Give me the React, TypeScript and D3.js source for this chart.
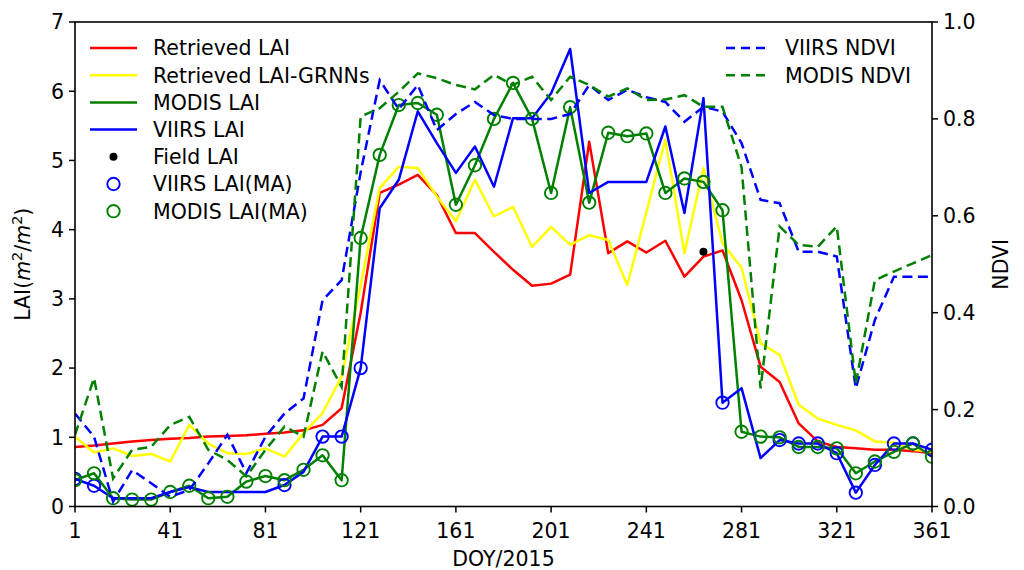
import React from "react";
import * as d3 from "d3";

const doy = [1,9,17,25,33,41,49,57,65,73,81,89,97,105,113,121,129,137,145,153,161,169,177,185,193,201,209,217,225,233,241,249,257,265,273,281,289,297,305,313,321,329,337,345,353,361];

const retrievedLai = [0.86,0.88,0.91,0.94,0.96,0.98,0.99,1.01,1.02,1.03,1.05,1.07,1.10,1.18,1.42,2.8,4.53,4.65,4.79,4.5,3.95,3.95,3.68,3.42,3.19,3.22,3.35,5.27,3.66,3.83,3.67,3.84,3.32,3.61,3.70,2.98,2.02,1.80,1.2,0.94,0.86,0.84,0.82,0.82,0.8,0.77];

const grnnLai = [1.01,0.78,0.84,0.73,0.76,0.65,1.18,0.91,0.77,0.76,0.84,0.72,1.06,1.35,1.88,3.2,4.6,4.91,4.89,4.48,4.12,4.72,4.19,4.33,3.75,4.04,3.78,3.92,3.85,3.2,4.25,5.3,3.66,4.89,3.8,3.45,2.36,2.19,1.47,1.27,1.18,1.1,0.94,0.92,0.82,0.79];

const modisLai = [0.38,0.48,0.12,0.1,0.1,0.21,0.3,0.12,0.14,0.36,0.44,0.38,0.53,0.74,0.38,3.88,5.08,5.8,5.83,5.66,4.36,4.93,5.6,6.12,5.6,4.53,5.77,4.39,5.4,5.35,5.39,4.53,4.74,4.69,4.28,1.08,1.01,1.0,0.86,0.86,0.84,0.48,0.65,0.79,0.91,0.72];

const viirsLai = [0.40,0.30,0.12,0.12,0.12,0.21,0.28,0.21,0.21,0.21,0.21,0.31,0.5,1.01,1.01,2.0,4.31,4.72,5.71,5.25,4.82,5.2,4.62,5.61,5.61,5.97,6.61,4.53,4.69,4.69,4.69,5.49,4.24,5.9,1.5,1.71,0.7,0.96,0.91,0.91,0.77,0.2,0.6,0.91,0.91,0.82];

const viirsMaDoy = [1,9,89,105,113,121,273,297,305,313,321,329,337,345,353,361];
const viirsMaLai = [0.40,0.30,0.31,1.01,1.01,2.0,1.5,0.96,0.91,0.91,0.77,0.2,0.6,0.91,0.91,0.82];

const fieldDoy = [265];
const fieldLai = [3.68];

const viirsNdvi = [0.192,0.144,0.01,0.075,0.048,0.02,0.034,0.089,0.148,0.069,0.144,0.192,0.223,0.426,0.467,0.69,0.88,0.82,0.87,0.777,0.81,0.835,0.808,0.8,0.8,0.8,0.81,0.87,0.839,0.86,0.845,0.835,0.794,0.825,0.815,0.75,0.633,0.626,0.526,0.526,0.516,0.244,0.385,0.474,0.474,0.474];

const modisNdvi = [0.148,0.265,0.058,0.117,0.123,0.168,0.185,0.117,0.096,0.062,0.117,0.165,0.144,0.32,0.247,0.805,0.822,0.856,0.894,0.884,0.87,0.861,0.891,0.87,0.887,0.839,0.887,0.87,0.846,0.863,0.839,0.84,0.849,0.825,0.825,0.70,0.244,0.578,0.54,0.536,0.578,0.254,0.467,0.485,0.502,0.519];

const xTicks = [1,41,81,121,161,201,241,281,321,361];
const yLeftTicks = [0,1,2,3,4,5,6,7];
const yRightTicks = [0,0.2,0.4,0.6,0.8,1.0];

const RED = "#ff0000";
const YELLOW = "#ffff00";
const GREEN = "#008000";
const BLUE = "#0000ff";
const FONT = "'DejaVu Sans', sans-serif";

export default function App() {
  const left = 75, right = 932, top = 22, bottom = 506.5;
  const x = d3.scaleLinear().domain([1, 361]).range([left, right]);
  const yL = d3.scaleLinear().domain([0, 7]).range([bottom, top]);
  const yR = d3.scaleLinear().domain([0, 1]).range([bottom, top]);

  const lineL = (vals: number[]) =>
    d3.line<number>().x((_, i) => x(doy[i])).y((d) => yL(d))(vals) || "";
  const lineR = (vals: number[]) =>
    d3.line<number>().x((_, i) => x(doy[i])).y((d) => yR(d))(vals) || "";

  const lw = 2.5;
  const dash = "10,5.5";
  const fs = 20.5;

  const legendRows = [
    { label: "Retrieved LAI", type: "line", color: RED },
    { label: "Retrieved LAI-GRNNs", type: "line", color: YELLOW },
    { label: "MODIS LAI", type: "line", color: GREEN },
    { label: "VIIRS LAI", type: "line", color: BLUE },
    { label: "Field LAI", type: "dot", color: "#000" },
    { label: "VIIRS LAI(MA)", type: "circle", color: BLUE },
    { label: "MODIS LAI(MA)", type: "circle", color: GREEN },
  ];
  const rightLegend = [
    { label: "VIIRS NDVI", color: BLUE },
    { label: "MODIS NDVI", color: GREEN },
  ];

  return (
    <svg
      width={1024}
      height={570}
      style={{ position: "absolute", left: 0, top: 0, background: "#fff" }}
      fontFamily={FONT}
    >
      <defs>
        <clipPath id="plotClip">
          <rect x={left} y={top} width={right - left} height={bottom - top} />
        </clipPath>
      </defs>
      <rect x={0} y={0} width={1024} height={570} fill="#fff" />

      <g clipPath="url(#plotClip)">
        <path d={lineL(retrievedLai)} fill="none" stroke={RED} strokeWidth={lw} strokeLinejoin="round" />
        <path d={lineL(grnnLai)} fill="none" stroke={YELLOW} strokeWidth={lw} strokeLinejoin="round" />
        <path d={lineL(modisLai)} fill="none" stroke={GREEN} strokeWidth={lw} strokeLinejoin="round" />
        <path d={lineL(viirsLai)} fill="none" stroke={BLUE} strokeWidth={lw} strokeLinejoin="round" />
        {fieldDoy.map((d, i) => (
          <circle key={"f" + i} cx={x(d)} cy={yL(fieldLai[i])} r={4} fill="#000" />
        ))}
        {viirsMaDoy.map((d, i) => (
          <circle key={"v" + i} cx={x(d)} cy={yL(viirsMaLai[i])} r={6.2} fill="none" stroke={BLUE} strokeWidth={1.9} />
        ))}
        {doy.map((d, i) => (
          <circle key={"m" + i} cx={x(d)} cy={yL(modisLai[i])} r={6.2} fill="none" stroke={GREEN} strokeWidth={1.9} />
        ))}
        <path d={lineR(viirsNdvi)} fill="none" stroke={BLUE} strokeWidth={lw} strokeDasharray={dash} />
        <path d={lineR(modisNdvi)} fill="none" stroke={GREEN} strokeWidth={lw} strokeDasharray={dash} />
      </g>

      {/* frame */}
      <rect x={left} y={top} width={right - left} height={bottom - top} fill="none" stroke="#000" strokeWidth={1.6} />

      {/* bottom axis */}
      {xTicks.map((t) => (
        <g key={"x" + t}>
          <line x1={x(t)} x2={x(t)} y1={bottom} y2={bottom + 6} stroke="#000" strokeWidth={1.5} />
          <text x={x(t)} y={538} textAnchor="middle" fontSize={fs} fill="#000">{t}</text>
        </g>
      ))}
      <text x={(left + right) / 2} y={566} textAnchor="middle" fontSize={fs} fill="#000">DOY/2015</text>

      {/* left axis */}
      {yLeftTicks.map((t) => (
        <g key={"yl" + t}>
          <line x1={left - 6} x2={left} y1={yL(t)} y2={yL(t)} stroke="#000" strokeWidth={1.5} />
          <text x={left - 11} y={yL(t)} dy="0.36em" textAnchor="end" fontSize={fs} fill="#000">{t}</text>
        </g>
      ))}
      <text transform={`translate(30, ${(top + bottom) / 2}) rotate(-90)`} textAnchor="middle" fontSize={fs} fill="#000">
        LAI(<tspan fontStyle="italic">m</tspan><tspan fontSize={fs * 0.7} dy={-8}>2</tspan><tspan dy={8}>/</tspan><tspan fontStyle="italic">m</tspan><tspan fontSize={fs * 0.7} dy={-8}>2</tspan><tspan dy={8}>)</tspan>
      </text>

      {/* right axis */}
      {yRightTicks.map((t) => (
        <g key={"yr" + t}>
          <line x1={right} x2={right + 6} y1={yR(t)} y2={yR(t)} stroke="#000" strokeWidth={1.5} />
          <text x={right + 11} y={yR(t)} dy="0.36em" textAnchor="start" fontSize={fs} fill="#000">{t.toFixed(1)}</text>
        </g>
      ))}
      <text transform={`translate(1008, ${(top + bottom) / 2}) rotate(-90)`} textAnchor="middle" fontSize={fs} fill="#000">NDVI</text>

      {/* left legend */}
      {legendRows.map((r, i) => {
        const cy = 48 + i * 27.2;
        return (
          <g key={"lg" + i}>
            {r.type === "line" && (
              <line x1={90} x2={137} y1={cy} y2={cy} stroke={r.color} strokeWidth={lw} />
            )}
            {r.type === "dot" && <circle cx={113.5} cy={cy} r={4} fill="#000" />}
            {r.type === "circle" && (
              <circle cx={113.5} cy={cy} r={6.2} fill="none" stroke={r.color} strokeWidth={1.9} />
            )}
            <text x={153} y={cy} dy="0.36em" fontSize={fs} fill="#000">{r.label}</text>
          </g>
        );
      })}

      {/* right legend */}
      {rightLegend.map((r, i) => {
        const cy = 48 + i * 27.2;
        return (
          <g key={"rg" + i}>
            <line x1={726} x2={767} y1={cy} y2={cy} stroke={r.color} strokeWidth={lw} strokeDasharray="9,6" />
            <text x={785} y={cy} dy="0.36em" fontSize={fs} fill="#000">{r.label}</text>
          </g>
        );
      })}
    </svg>
  );
}
